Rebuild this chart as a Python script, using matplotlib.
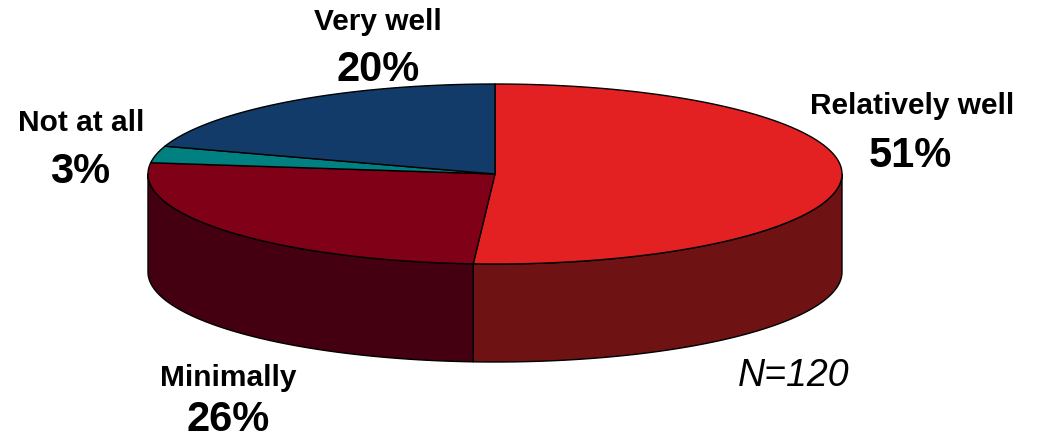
import numpy as np
import matplotlib
matplotlib.use("Agg")
import matplotlib.pyplot as plt
from matplotlib.patches import Polygon

# ---- data ----
categories = ["Relatively well", "Minimally", "Not at all", "Very well"]
values = [51, 26, 3, 20]
pct_labels = ["51%", "26%", "3%", "20%"]
top_colors = ["#E32022", "#800018", "#008080", "#133B69"]
side_colors = ["#6E1213", "#440010", "#004848", "#0A2240"]
note = "N=120"

# ---- layout ----
W, H = 1038, 443
cx, cy = 495, 174      # centre of top ellipse (px)
a, b = 347, 90         # semi-axes (px)
depth = 98             # thickness (px)

fig = plt.figure(figsize=(W / 100, H / 100), dpi=100)
ax = fig.add_axes([0, 0, 1, 1])
ax.set_xlim(0, W)
ax.set_ylim(H, 0)
ax.axis("off")

def pt(theta_deg, dy=0.0):
    t = np.radians(theta_deg)
    return cx + a * np.sin(t), cy - b * np.cos(t) + dy

total = float(sum(values))
bounds = np.concatenate([[0], np.cumsum(values)]) / total * 360.0

# sides (front half: 90..270 deg clockwise from top)
for i in range(len(values)):
    s, e = bounds[i], bounds[i + 1]
    lo, hi = max(s, 90), min(e, 270)
    if hi <= lo:
        continue
    th = np.linspace(lo, hi, 200)
    xs, ys = pt(th)
    xb, yb = pt(th[::-1], depth)
    poly = np.column_stack([np.concatenate([xs, xb]), np.concatenate([ys, yb])])
    ax.add_patch(Polygon(poly, closed=True, facecolor=side_colors[i],
                         edgecolor="black", linewidth=1.0, joinstyle="round"))

# tops
for i in range(len(values)):
    s, e = bounds[i], bounds[i + 1]
    th = np.linspace(s, e, 300)
    xs, ys = pt(th)
    poly = np.column_stack([np.concatenate([[cx], xs]), np.concatenate([[cy], ys])])
    ax.add_patch(Polygon(poly, closed=True, facecolor=top_colors[i],
                         edgecolor="black", linewidth=1.0, joinstyle="round"))

# labels (name, then percentage below)
label_pos = {
    "Relatively well": (912, 106, 910, 156),
    "Minimally": (228, 378, 228, 420),
    "Not at all": (81, 123, 80, 172),
    "Very well": (378, 22, 378, 70),
}
font = ["Liberation Sans", "DejaVu Sans"]
for cat, pct in zip(categories, pct_labels):
    x1, y1, x2, y2 = label_pos[cat]
    ax.text(x1, y1, cat, ha="center", va="center", fontsize=21.5,
            fontweight="bold", family=font, color="black")
    ax.text(x2, y2, pct, ha="center", va="center", fontsize=30,
            fontweight="bold", family=font, color="black")

ax.text(794, 376, note, ha="center", va="center", fontsize=27,
        fontstyle="italic", family=font, color="black")

fig.savefig("out.png", dpi=100)
